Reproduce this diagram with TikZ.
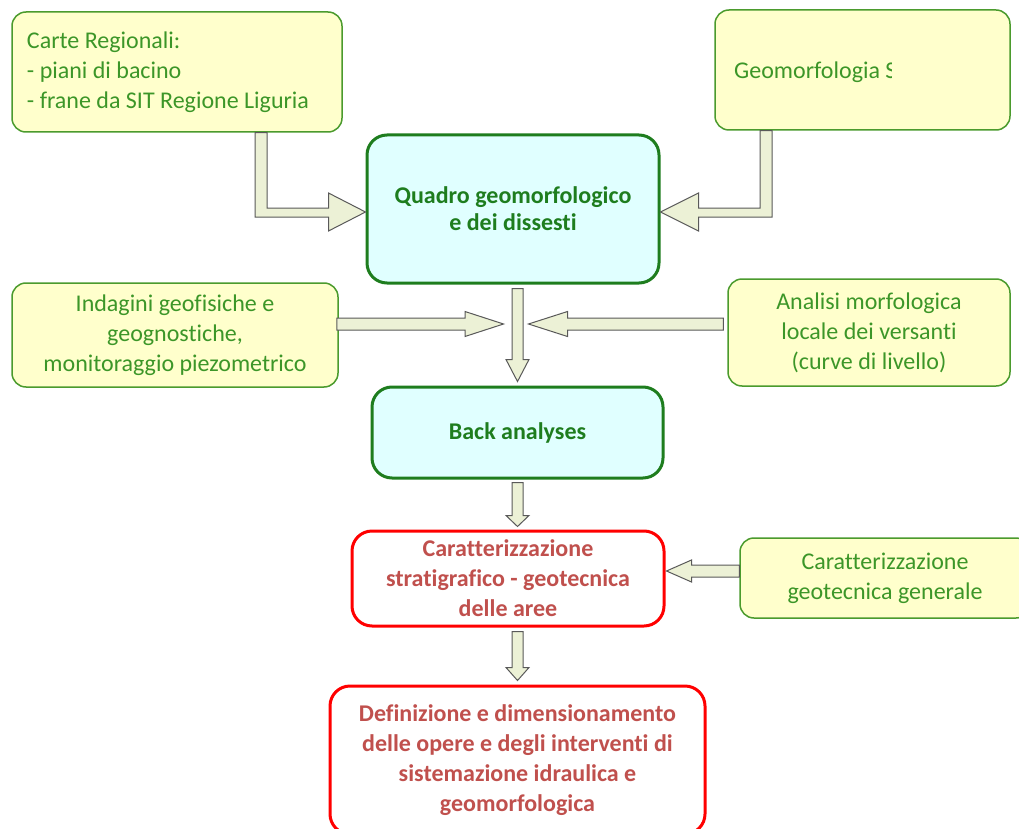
\documentclass[tikz,border=0pt]{standalone}
\usepackage{fontspec}
\setmainfont{Carlito}[Ligatures=NoCommon]
\usepackage{tikz}
\usetikzlibrary{calc}

\definecolor{boxgreen}{RGB}{75,155,45}
\definecolor{txtgreen}{RGB}{60,150,40}
\definecolor{darkgreen}{RGB}{30,125,30}
\definecolor{boxyellow}{RGB}{255,255,204}
\definecolor{boxcyan}{RGB}{224,255,255}
\definecolor{txtred}{RGB}{192,80,77}
\definecolor{arrowfill}{RGB}{236,241,214}

\begin{document}
\begin{tikzpicture}[x=1pt, y=-1pt,
  inbox/.style={draw=boxgreen, line width=1.5pt, fill=boxyellow, rounded corners=14pt,
    text=txtgreen, font=\fontsize{24}{30}\selectfont, align=center, inner sep=0pt},
  keybox/.style={draw=darkgreen, line width=3pt, fill=boxcyan, rounded corners=20pt,
    text=darkgreen, font=\fontsize{24}{27}\selectfont\bfseries, align=center, inner sep=0pt},
  outbox/.style={draw=red, line width=3pt, fill=white, rounded corners=20pt,
    text=txtred, font=\fontsize{24}{30}\selectfont\bfseries, align=center, inner sep=0pt},
  blockarrow/.style={draw=black!65, fill=arrowfill, line width=1pt}]
\clip (0,0) rectangle (1019,829);
\fill[white] (0,0) rectangle (1019,829);
% input boxes (yellow)
\node[inbox, minimum width=330pt, minimum height=120pt, text width=300pt, align=flush left] (carte) at (177,72)
  {Carte Regionali:\\- piani di bacino\\- frane da SIT Regione Liguria};
\node[inbox, minimum width=295pt, minimum height=120pt] (geomorf) at (862.5,70) {};
\begin{scope}
  \clip (715,10) rectangle (891,130);
  \node[text=txtgreen, font=\fontsize{24}{30}\selectfont, anchor=west, inner sep=0pt] (geolabel) at (734,72) {Geomorfologia S};
\end{scope}
\node[inbox, minimum width=326pt, minimum height=104pt] (indagini) at (175,335)
  {Indagini geofisiche e\\geognostiche,\\monitoraggio piezometrico};
\node[inbox, minimum width=282pt, minimum height=107pt] (analisi) at (869,332.5)
  {Analisi morfologica\\locale dei versanti\\(curve di livello)};
\node[inbox, minimum width=290pt, minimum height=80pt] (geotec) at (885,578)
  {Caratterizzazione\\geotecnica generale};
% main chain
\node[keybox, minimum width=292pt, minimum height=148pt] (quadro) at (513,209)
  {Quadro geomorfologico\\e dei dissesti};
\node[keybox, minimum width=291pt, minimum height=91pt] (back) at (517.5,432.5) {Back analyses};
\node[outbox, minimum width=312pt, minimum height=95pt] (caratt) at (508,578.5)
  {Caratterizzazione\\stratigrafico - geotecnica\\delle aree};
\node[outbox, minimum width=375pt, minimum height=148pt] (defin) at (517.5,760)
  {Definizione e dimensionamento\\delle opere e degli interventi di\\sistemazione idraulica e\\geomorfologica};
\coordinate (merge) at (517.5,324);
% block arrows
\draw[blockarrow] ($(carte.south)+(78,0)$) |- ($(quadro.west)+(-37,8)$) -- ++(0,14)
  -- ($(quadro.west)+(0,3)$) -- ($(quadro.west)+(-37,-16)$) -- ++(0,15) -| ($(carte.south)+(90,0)$) -- cycle;
\draw[blockarrow] ($(geomorf.south)+(-90.5,0)$) |- ($(quadro.east)+(38,8)$) -- ++(0,14)
  -- ($(quadro.east)+(0,3)$) -- ($(quadro.east)+(38,-16)$) -- ++(0,15) -| ($(geomorf.south)+(-102.5,0)$) -- cycle;
\draw[blockarrow] ($(quadro.south -| back.north)+(-5.5,4)$) -- ($(back.north)+(-5.5,-26)$) -- ++(-6,0)
  -- ($(back.north)+(0,-4)$) -- ($(back.north)+(11.5,-26)$) -- ++(-6,0) -- ($(quadro.south -| back.north)+(5.5,4)$) -- cycle;
\draw[blockarrow] ($(indagini.east |- merge)+(-2,-6)$) -- ($(merge)+(-52.5,-6)$) -- ++(0,-6.5)
  -- ($(merge)+(-14,0)$) -- ($(merge)+(-52.5,12.5)$) -- ++(0,-6.5) -- ($(indagini.east |- merge)+(-2,6)$) -- cycle;
\draw[blockarrow] ($(analisi.west |- merge)+(-4,-6)$) -- ($(merge)+(50,-6)$) -- ++(0,-6.5)
  -- ($(merge)+(11,0)$) -- ($(merge)+(50,12.5)$) -- ++(0,-6.5) -- ($(analisi.west |- merge)+(-4,6)$) -- cycle;
\draw[blockarrow] ($(back.south)+(-5.5,3)$) -- ($(back.south |- caratt.north)+(-5.5,-14)$) -- ++(-6,0)
  -- ($(back.south |- caratt.north)+(0,-3)$) -- ($(back.south |- caratt.north)+(11.5,-14)$) -- ++(-6,0) -- ($(back.south)+(5.5,3)$) -- cycle;
\draw[blockarrow] ($(geotec.west)+(0,-13)$) -- ($(caratt.east |- geotec.west)+(26,-13)$) -- ++(0,-5)
  -- ($(caratt.east |- geotec.west)+(1,-7)$) -- ($(caratt.east |- geotec.west)+(26,4)$) -- ++(0,-5) -- ($(geotec.west)+(0,-1)$) -- cycle;
\draw[blockarrow] ($(caratt.south -| defin.north)+(-5.5,4)$) -- ($(defin.north)+(-5.5,-17)$) -- ++(-6,0)
  -- ($(defin.north)+(0,-4)$) -- ($(defin.north)+(11.5,-17)$) -- ++(-6,0) -- ($(caratt.south -| defin.north)+(5.5,4)$) -- cycle;
\end{tikzpicture}
\end{document}
